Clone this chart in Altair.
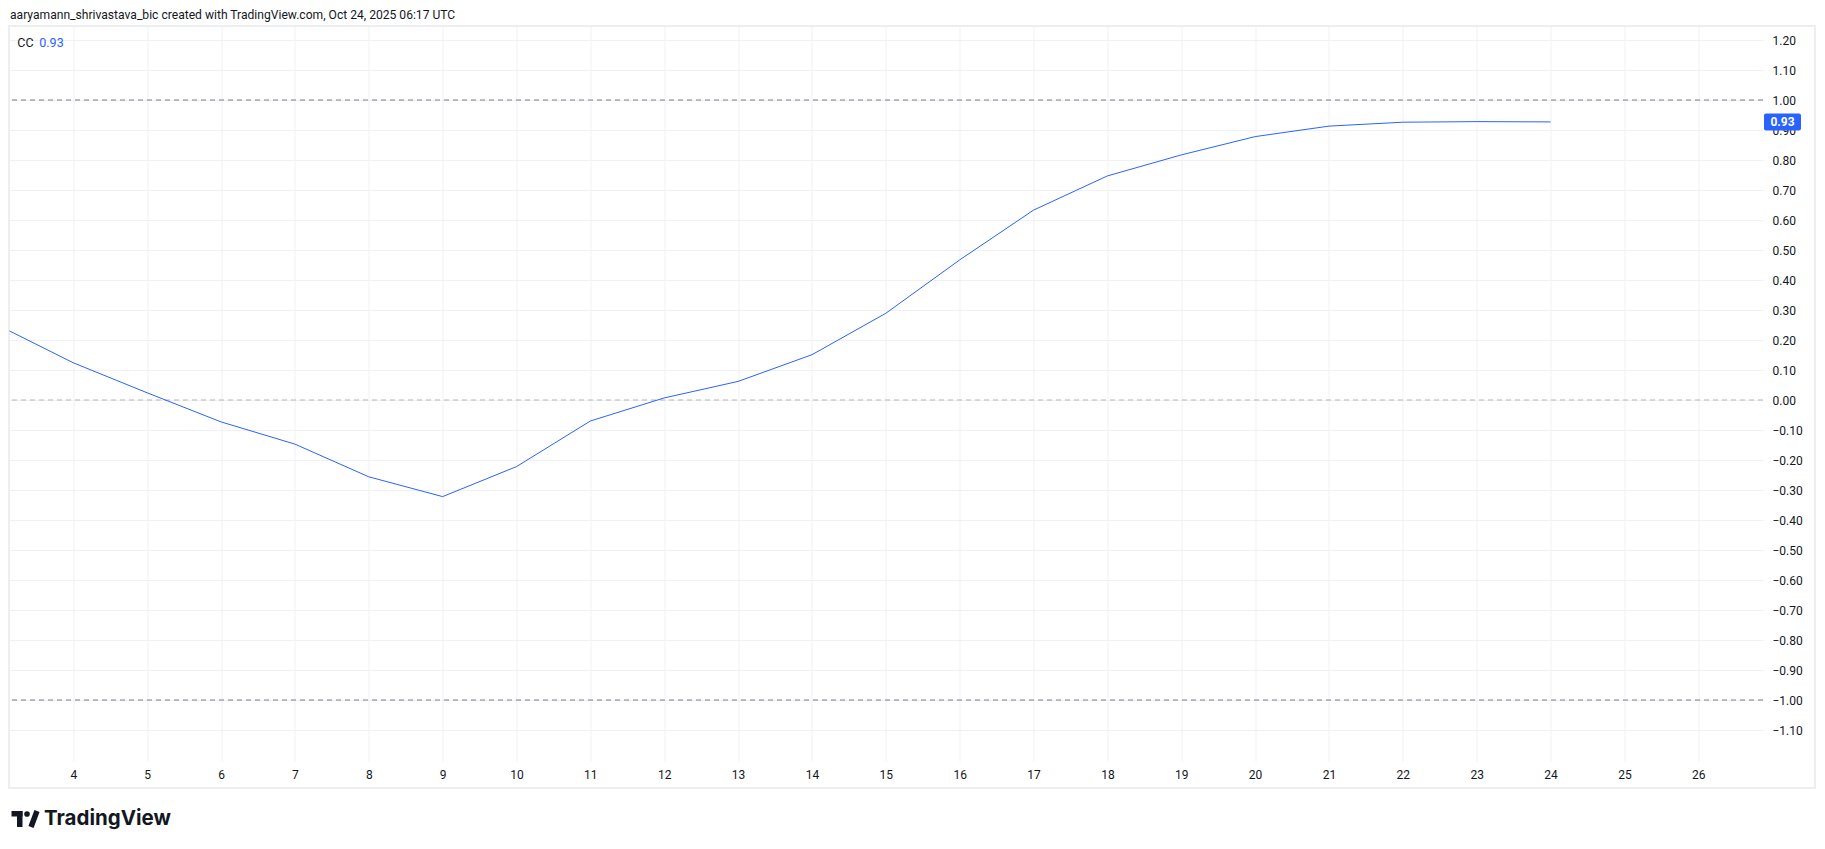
import altair as alt
import pandas as pd

# ---- data ----
x_vals = list(range(3, 25))
cc_vals = [0.247, 0.124, 0.024, -0.073, -0.147, -0.256, -0.322, -0.222, -0.070,
           0.007, 0.062, 0.151, 0.289, 0.467, 0.633, 0.747, 0.817, 0.878,
           0.913, 0.926, 0.928, 0.927]
x_ticks = list(range(4, 27))
y_ticks = [round(-1.1 + 0.1 * i, 2) for i in range(24)]
hline_levels = [1.0, 0.0, -1.0]
hline_colors = ["#787b86", "#b2b5be", "#787b86"]
header_text = "aaryamann_shrivastava_bic created with TradingView.com, Oct 24, 2025 06:17 UTC"
series_name = "CC"
logo_text = "TradingView"

df = pd.DataFrame({"x": x_vals, "cc": cc_vals})
last_df = pd.DataFrame({"x": [x_vals[-1]], "cc": [cc_vals[-1]]})
hl_df = pd.DataFrame({"level": hline_levels, "col": hline_colors})
one = pd.DataFrame({"a": [0]})

W, H = 1753.5, 735
FONT = "Roboto"
TXT = "#131722"
BLUE = "#2962ff"
GRID = "#f0f1f4"

xscale = alt.Scale(domain=[3.136, 26.876], nice=False, zero=False)
yscale = alt.Scale(domain=[-1.2033, 1.2467], nice=False, zero=False)

x_axis = alt.Axis(values=x_ticks, format="d", grid=True, gridColor=GRID,
                  ticks=False, domain=False, labelFontSize=12, labelFont=FONT,
                  labelColor=TXT, labelPadding=8, title=None, labelFlush=False,
                  labelOverlap=False, zindex=0)
y_axis = alt.Axis(orient="right", values=y_ticks, format=".2f", grid=True,
                  gridColor=GRID, ticks=False, domain=False, labelFontSize=12,
                  labelFont=FONT, labelColor=TXT, labelPadding=9, labelAlign="left",
                  title=None, labelFlush=False, labelOverlap=False, zindex=0)

frame = alt.Chart(one).mark_rect(fillOpacity=0, stroke="#eceef2", strokeWidth=2).encode(
    x=alt.value(-0.5), x2=alt.value(1805.5), y=alt.value(0), y2=alt.value(762)
)

line = alt.Chart(df).mark_line(color=BLUE, strokeWidth=1, clip=True).encode(
    x=alt.X("x:Q", scale=xscale, axis=x_axis),
    y=alt.Y("cc:Q", scale=yscale, axis=y_axis),
)

rules = alt.Chart(hl_df).mark_rule(strokeDash=[5, 4], strokeWidth=1).encode(
    y=alt.Y("level:Q", scale=yscale, axis=y_axis),
    color=alt.Color("col:N", scale=None),
)

badge = alt.Chart(last_df).mark_rect(color=BLUE, yOffset=-8.5, y2Offset=8.5, cornerRadius=2).encode(
    x=alt.value(1754.5), x2=alt.value(1791.5),
    y=alt.Y("cc:Q", scale=yscale, axis=y_axis), y2=alt.Y2("cc"),
)
badge_text = alt.Chart(last_df).mark_text(color="white", fontWeight="bold", fontSize=12,
                                          font=FONT, align="center", baseline="middle").encode(
    x=alt.value(1773), y=alt.Y("cc:Q", scale=yscale, axis=y_axis),
    text=alt.Text("cc:Q", format=".2f")
)

legend_name = alt.Chart(one).mark_text(align="left", baseline="middle", fontSize=12.5,
                                       font=FONT, color=TXT, text=series_name).encode(
    x=alt.value(7.8), y=alt.value(16.7)
)
legend_val = alt.Chart(last_df).mark_text(align="left", baseline="middle", fontSize=12.5,
                                          font=FONT, color=BLUE).encode(
    x=alt.value(29.8), y=alt.value(16.7), text=alt.Text("cc:Q", format=".2f")
)

header = alt.Chart(one).mark_text(align="left", baseline="middle", fontSize=12.1, font=FONT,
                                  color=TXT, text=header_text).encode(
    x=alt.value(0.5), y=alt.value(-11)
)

logo_word = alt.Chart(one).mark_text(align="left", baseline="middle", fontSize=20.5, font="Inter",
                                     fontWeight="bold", color=TXT, text=logo_text).encode(
    x=alt.value(34.5), y=alt.value(793)
)
logo_bar = alt.Chart(one).mark_rect(color=TXT).encode(
    x=alt.value(2), x2=alt.value(13), y=alt.value(785), y2=alt.value(790.5)
)
logo_stem = alt.Chart(one).mark_rect(color=TXT).encode(
    x=alt.value(7.5), x2=alt.value(13), y=alt.value(785), y2=alt.value(801)
)
logo_dot = alt.Chart(one).mark_point(color=TXT, filled=True, size=32, opacity=1).encode(
    x=alt.value(17.5), y=alt.value(788)
)
logo_slash = alt.Chart(one).mark_rule(color=TXT, strokeWidth=5.5, strokeCap="butt").encode(
    x=alt.value(27.5), x2=alt.value(21.5), y=alt.value(785), y2=alt.value(801)
)

chart = alt.layer(
    frame, rules, line, badge, badge_text, legend_name, legend_val, header,
    logo_word, logo_bar, logo_stem, logo_dot, logo_slash
).resolve_scale(x="shared", y="shared").properties(
    width=W, height=H,
    padding={"left": 1.5, "top": 18, "right": 54, "bottom": 80},
    autosize=alt.AutoSizeParams(type="none"),
    background="white",
).configure_view(stroke="transparent")

chart.save("out.html", embed_options={"renderer": "svg", "actions": False})
